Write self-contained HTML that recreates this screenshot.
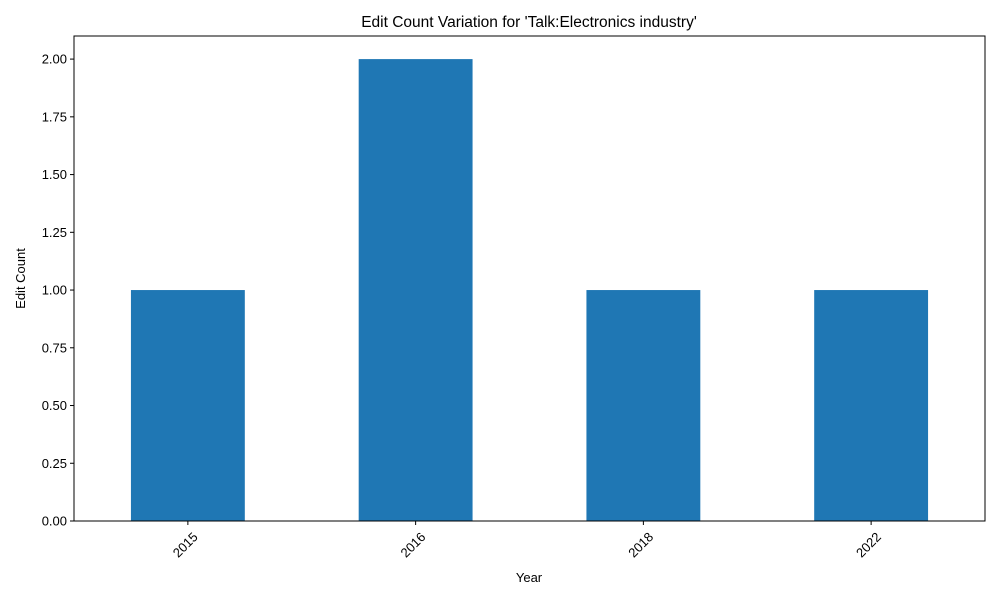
<!DOCTYPE html>
<html><head><meta charset="utf-8"><style>
body{margin:0;background:#fff;}
svg{display:block;font-family:"Liberation Sans","DejaVu Sans",sans-serif;}
</style></head><body>
<svg id="chart" width="1000" height="600">
<text x="529" y="27" text-anchor="middle" font-size="15.5">Edit Count Variation for 'Talk:Electronics industry'</text>
<g id="bars"></g>
<g id="yticks"></g>
<g id="xticks"></g>
<rect x="74" y="36" width="911" height="485" fill="none" stroke="#000" stroke-width="1"/>
<text x="529" y="582" text-anchor="middle" font-size="13">Year</text>
<text transform="translate(25,278.5) rotate(-90)" text-anchor="middle" font-size="13">Edit Count</text>
</svg>
<script>
const categories=["2015","2016","2018","2022"];
const values=[1,2,1,1];
const yTickValues=[0,0.25,0.5,0.75,1.0,1.25,1.5,1.75,2.0];
const L=74,R=985,T=36,B=521,yMax=2.1;
const ns="http://www.w3.org/2000/svg";
function xs(i){return L+(i+0.5)*(R-L)/categories.length;}
function ys(v){return B-v/yMax*(B-T);}
const bw=0.5*(R-L)/categories.length;
const gb=document.getElementById('bars'),gy=document.getElementById('yticks'),gx=document.getElementById('xticks');
function mk(tag,attrs,parent){const e=document.createElementNS(ns,tag);for(const k in attrs)e.setAttribute(k,attrs[k]);parent.appendChild(e);return e;}
values.forEach((v,i)=>{
 const r=mk('rect',{x:xs(i)-bw/2,y:ys(v),width:bw,height:B-ys(v),fill:'#1f77b4'},gb);
 
 
 const t=mk('line',{x1:xs(i),x2:xs(i),y1:B,y2:B+4,stroke:'#000'},gx);
 
 
 const lx=xs(i)+4,ly=B+10;
 const tx=mk('text',{x:lx,y:ly,'font-size':13,'text-anchor':'end','dominant-baseline':'hanging',transform:`rotate(-45 ${lx} ${ly})`},gx);
 tx.textContent=categories[i];
 
 
});
yTickValues.forEach(v=>{
 const t=mk('line',{x1:L-4,x2:L,y1:ys(v),y2:ys(v),stroke:'#000'},gy);
 
 
 const tx=mk('text',{x:L-7,y:ys(v)+4.5,'font-size':13,'text-anchor':'end'},gy);
 tx.textContent=v.toFixed(2);
 
 
});
</script>
</body></html>
